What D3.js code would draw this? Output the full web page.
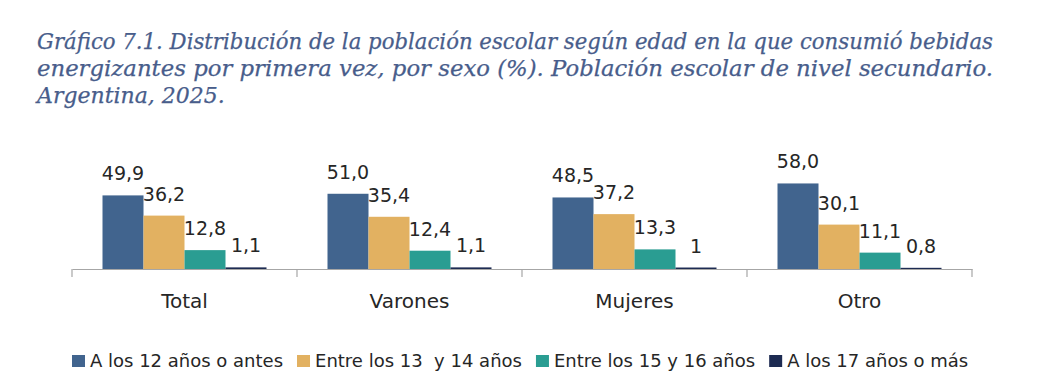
<!DOCTYPE html>
<html>
<head>
<meta charset="utf-8">
<script src="https://cdn.jsdelivr.net/npm/d3@7"></script>
<style>
  body { margin: 0; background: #fff; }
  .title { font-family: "DejaVu Serif", serif; font-style: italic; fill: #485d8b; }
  .lbl { font-family: "DejaVu Sans", sans-serif; fill: #262626; }
</style>
</head>
<body>
<div id="chart"></div>
<script>
// data
var categories = ["Total", "Varones", "Mujeres", "Otro"];
var seriesNames = ["A los 12 años o antes", "Entre los 13  y 14 años", "Entre los 15 y 16 años", "A los 17 años o más"];
var age12 = [49.9, 51.0, 48.5, 58.0];
var age13 = [36.2, 35.4, 37.2, 30.1];
var age15 = [12.8, 12.4, 13.3, 11.1];
var age17 = [1.1, 1.1, 1, 0.8];
var labels12 = ["49,9", "51,0", "48,5", "58,0"];
var labels13 = ["36,2", "35,4", "37,2", "30,1"];
var labels15 = ["12,8", "12,4", "13,3", "11,1"];
var labels17 = ["1,1", "1,1", "1", "0,8"];
var colors = ["#41648e", "#e2b161", "#2a9d92", "#1d2b52"];
var titleLines = [
  "Gráfico 7.1. Distribución de la población escolar según edad en la que consumió bebidas",
  "energizantes por primera vez, por sexo (%). Población escolar de nivel secundario.",
  "Argentina, 2025."
];

var W = 1060, H = 392;
var margin = {left: 72, right: 88, top: 0},
    axisY = 269;

var svg = d3.select("#chart").append("svg")
    .attr("width", W)
    .attr("height", H);

// title
svg.selectAll(".title")
    .data(titleLines)
    .enter().append("text")
    .attr("class", "title")
    .attr("x", 37)
    .attr("y", function(d, i) { return 49 + i * 27; })
    .style("font-size", "22px")
    .style("stroke", "#485d8b")
    .style("stroke-width", 0.25)
    .each(function(d, i) {
        if (i < 2) d3.select(this).attr("textLength", 956).attr("lengthAdjust", "spacingAndGlyphs");
    })
    .text(function(d) { return d; });

var series = [age12, age13, age15, age17];
var seriesLabels = [labels12, labels13, labels15, labels17];

// scales
var x0 = d3.scaleBand().domain(categories).range([margin.left, W - margin.right]).padding(0);
var x1 = d3.scaleBand().domain(d3.range(series.length))
    .range([30.5, x0.bandwidth() - 30.5]).padding(0);
var y = d3.scaleLinear().domain([0, 70]).range([axisY, axisY - 103.25]);

var rows = [];
categories.forEach(function(c, ci) {
    series.forEach(function(s, si) {
        rows.push({cat: c, s: si, v: s[ci], label: seriesLabels[si][ci]});
    });
});

svg.selectAll(".bar")
    .data(rows)
    .enter().append("rect")
    .attr("class", "bar")
    .attr("x", function(d) { return x0(d.cat) + x1(d.s); })
    .attr("y", function(d) { return y(d.v); })
    .attr("width", x1.bandwidth())
    .attr("height", function(d) { return axisY - y(d.v); })
    .style("fill", function(d) { return colors[d.s]; });

svg.selectAll(".val")
    .data(rows)
    .enter().append("text")
    .attr("class", "lbl val")
    .attr("x", function(d) { return x0(d.cat) + x1(d.s) + x1.bandwidth() / 2; })
    .attr("y", function(d) { return y(d.v) - 15; })
    .style("text-anchor", "middle")
    .style("font-size", "19px")
    .text(function(d) { return d.label; });

// x axis
var xAxis = d3.axisBottom(x0).tickSize(0).tickFormat(function(d) { return d; });
var gx = svg.append("g")
    .attr("transform", "translate(0," + axisY + ")")
    .call(xAxis);
gx.select(".domain").attr("stroke", "#a6a6a6").attr("stroke-width", 1.2);
gx.selectAll(".tick text")
    .attr("class", "lbl")
    .attr("y", 0).attr("dy", 39)
    .style("font-size", "20px");
gx.selectAll(".sep")
    .data(categories.concat(["end"]))
    .enter().append("line")
    .attr("x1", function(d, i) { return i < categories.length ? x0(d) : x0.range()[1]; })
    .attr("x2", function(d, i) { return i < categories.length ? x0(d) : x0.range()[1]; })
    .attr("y1", 0).attr("y2", 8)
    .attr("stroke", "#a6a6a6").attr("stroke-width", 1.2);

// legend
var legend = svg.append("g").attr("transform", "translate(72,367)");
var lx = 0;
seriesNames.forEach(function(name, i) {
    var g = legend.append("g").attr("transform", "translate(" + lx + ",0)");
    g.append("rect")
        .attr("x", 0).attr("y", -12).attr("width", 13).attr("height", 12)
        .style("fill", colors[i]);
    var t = g.append("text")
        .attr("class", "lbl")
        .attr("x", 18).attr("y", 0)
        .style("font-size", "18px")
        .attr("xml:space", "preserve")
        .text(name);
    lx += 18 + t.node().getComputedTextLength() + 14;
});
</script>
</body>
</html>
